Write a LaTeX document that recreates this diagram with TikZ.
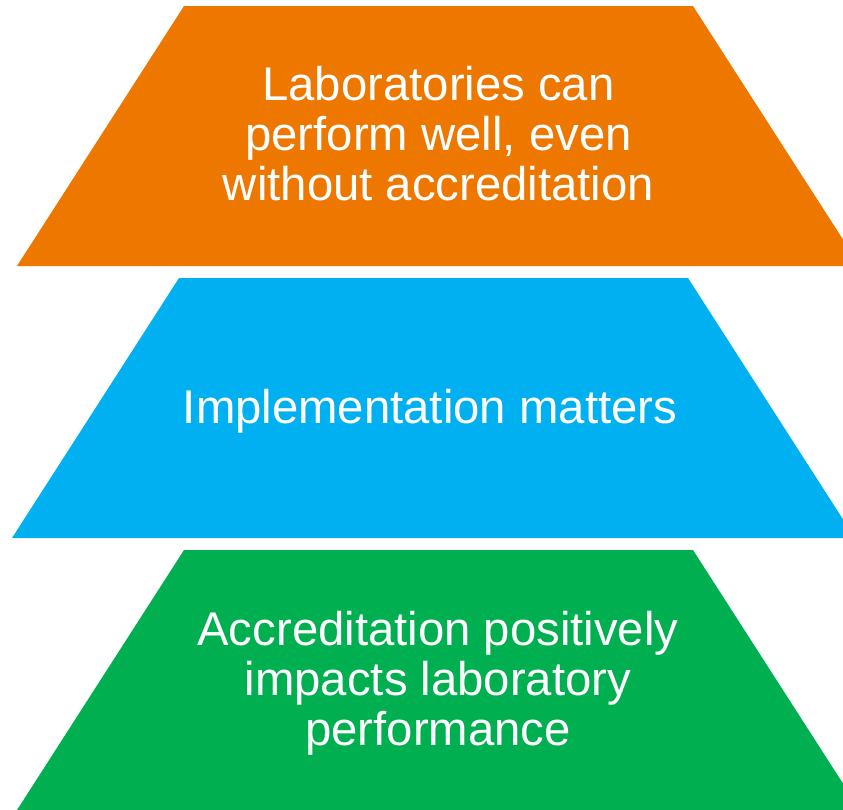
\documentclass[tikz,border=0pt]{standalone}
\usepackage{fontspec}
\setmainfont{Liberation Sans}
\definecolor{tOrange}{RGB}{238,119,0}
\definecolor{tBlue}{RGB}{0,176,240}
\definecolor{tGreen}{RGB}{0,176,80}
\begin{document}
\begin{tikzpicture}[x=1pt,y=-1pt,
  lbl/.style={text=white,align=center,inner sep=0pt,anchor=base,
    font=\fontsize{47.3}{50}\selectfont}]
\useasboundingbox (0,0) rectangle (843,809);
\begin{scope}
\clip (0,0) rectangle (843,809);
\fill[tOrange] (184,6) -- (693,6) -- (860,266) -- (17,266) -- cycle;
\fill[tBlue] (179,278) -- (688,278) -- (855,538) -- (12,538) -- cycle;
\fill[tGreen] (184,550) -- (693,550) -- (860,810) -- (17,810) -- cycle;
\end{scope}
\node[lbl] (top) at (438.5,200) {Laboratories can\\perform well, even\\without accreditation};
\node[lbl] (mid) at (430,423) {Implementation matters};
\node[lbl] (bot) at (438,745) {Accreditation positively\\impacts laboratory\\performance};
\end{tikzpicture}
\end{document}
